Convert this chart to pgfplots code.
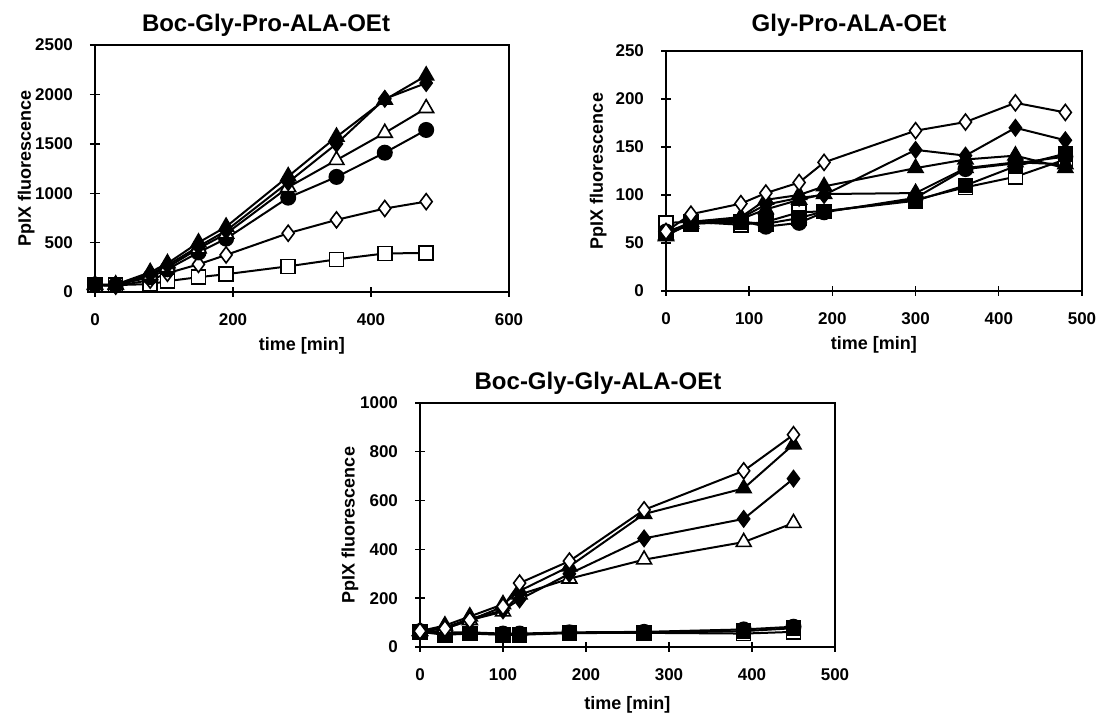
\documentclass[border=0pt]{standalone}
\usepackage{fontspec}
\setmainfont{Liberation Sans}
\usepackage{pgfplots}
\pgfplotsset{compat=1.18}
\pgfplotsset{
  base/.style={
    scale only axis,
    axis line style={line width=0.7pt},
    tick style={line width=0.7pt, black},
    tick align=center,
    major tick length=5pt,
    tick pos=left,
    ticklabel style={font=\bfseries\fontsize{8.5}{10}\selectfont},
    label style={font=\bfseries\fontsize{9}{10}\selectfont},
    /pgf/number format/assume math mode=true,
    /pgf/number format/set thousands separator={},
    scaled ticks=false,
    xticklabel style={yshift=-5pt},
    yticklabel style={xshift=-5pt},
    xlabel={time [min]},
    ylabel={PpIX fluorescence},
    every axis plot/.append style={black, line width=1pt},
  },
  ftri/.style={mark=triangle*, mark size=4.3pt, mark options={fill=black, draw=black, line width=0.8pt, solid}},
  otri/.style={mark=triangle*, mark size=4.3pt, mark options={fill=white, draw=black, line width=0.8pt, solid}},
  fdia/.style={mark=diamond*, mark size=4pt, mark options={fill=black, draw=black, line width=0.8pt, solid}},
  odia/.style={mark=diamond*, mark size=4pt, mark options={fill=white, draw=black, line width=0.8pt, solid}},
  fcirc/.style={mark=*, mark size=3.6pt, mark options={fill=black, draw=black, line width=0.8pt, solid}},
  fsq/.style={mark=square*, mark size=3.5pt, mark options={fill=black, draw=black, line width=0.8pt, solid}},
  osq/.style={mark=square*, mark size=3.5pt, mark options={fill=white, draw=black, line width=0.8pt, solid}},
}
\begin{document}
\begin{tikzpicture}
\useasboundingbox (0,0) rectangle (550pt,356.5pt);
% ---------------- Plot 1 ----------------
\begin{axis}[base, at={(47.5pt,210.5pt)}, anchor=south west,
  width=207pt, height=123.5pt,
  xmin=0, xmax=600, ymin=0, ymax=2500,
  xtick={0,200,400,600}, ytick={0,500,1000,1500,2000,2500},
  xlabel style={at={(axis description cs:0.5,0)}, anchor=center, yshift=-27pt},
  ylabel style={at={(axis description cs:-0.166,0.5)}, anchor=center},
]
\addplot[osq] coordinates {(0,70)(30,70)(80,80)(105,110)(150,150)(190,180)(280,260)(350,330)(420,390)(480,395)};
\addplot[odia] coordinates {(0,70)(30,60)(80,120)(105,190)(150,280)(190,375)(280,595)(350,730)(420,845)(480,915)};
\addplot[fcirc] coordinates {(0,75)(30,70)(80,150)(105,230)(150,400)(190,540)(280,955)(350,1165)(420,1410)(480,1640)};
\addplot[otri] coordinates {(0,70)(30,70)(80,170)(105,250)(150,440)(190,590)(280,1060)(350,1335)(420,1610)(480,1860)};
\addplot[fdia] coordinates {(0,70)(30,70)(80,180)(105,270)(150,460)(190,620)(280,1110)(350,1500)(420,1955)(480,2115)};
\addplot[ftri] coordinates {(0,75)(30,75)(80,200)(105,290)(150,500)(190,660)(280,1170)(350,1570)(420,1945)(480,2190)};
\end{axis}
% ---------------- Plot 2 ----------------
\begin{axis}[base, at={(333pt,211pt)}, anchor=south west,
  width=208pt, height=120pt,
  xmin=0, xmax=500, ymin=0, ymax=250,
  xtick={0,100,200,300,400,500}, ytick={0,50,100,150,200,250},
  xlabel style={at={(axis description cs:0.5,0)}, anchor=center, yshift=-27pt},
  ylabel style={at={(axis description cs:-0.163,0.5)}, anchor=center},
]
\addplot[osq] coordinates {(0,71)(30,72)(90,69)(120,72)(160,82)(190,83)(300,95)(360,108)(420,119)(480,137)};
\addplot[fsq] coordinates {(0,60)(30,70)(90,72)(120,70)(160,76)(190,83)(300,94)(360,110)(420,130)(480,143)};
\addplot[fcirc] coordinates {(0,62)(30,70)(90,73)(120,67)(160,71)(190,82)(300,97)(360,127)(420,133)(480,140)};
\addplot[ftri] coordinates {(0,58)(30,70)(90,75)(120,85)(160,95)(190,101)(300,102)(360,128)(420,134)(480,132)};
\addplot[ftri] coordinates {(0,57)(30,72)(90,77)(120,95)(160,100)(190,109)(300,128)(360,137)(420,141)(480,128)};
\addplot[fdia] coordinates {(0,60)(30,72)(90,76)(120,90)(160,97)(190,100)(300,147)(360,141)(420,170)(480,157)};
\addplot[odia] coordinates {(0,62)(30,80)(90,91)(120,102)(160,113)(190,134)(300,167)(360,176)(420,196)(480,186)};
\end{axis}
% ---------------- Plot 3 ----------------
\begin{axis}[base, at={(210pt,33pt)}, anchor=south west,
  width=207.5pt, height=122pt,
  xmin=0, xmax=500, ymin=0, ymax=1000,
  xtick={0,100,200,300,400,500}, ytick={0,200,400,600,800,1000},
  xlabel style={at={(axis description cs:0.5,0)}, anchor=center, yshift=-29pt},
  ylabel style={at={(axis description cs:-0.169,0.5)}, anchor=center},
]
\addplot[osq] coordinates {(0,62)(30,55)(60,55)(100,52)(120,52)(180,58)(270,58)(390,55)(450,62)};
\addplot[fsq] coordinates {(0,62)(30,50)(60,55)(100,50)(120,50)(180,57)(270,58)(390,65)(450,77)};
\addplot[fcirc] coordinates {(0,65)(30,60)(60,60)(100,55)(120,55)(180,60)(270,62)(390,72)(450,83)};
\addplot[otri] coordinates {(0,65)(30,75)(60,110)(100,145)(120,215)(180,280)(270,358)(390,430)(450,508)};
\addplot[fdia] coordinates {(0,65)(30,80)(60,115)(100,150)(120,195)(180,300)(270,445)(390,525)(450,690)};
\addplot[ftri] coordinates {(0,65)(30,88)(60,125)(100,175)(120,230)(180,330)(270,545)(390,650)(450,830)};
\addplot[odia] coordinates {(0,65)(30,75)(60,110)(100,165)(120,262)(180,352)(270,562)(390,722)(450,870)};
\end{axis}
% ---------------- Titles ----------------
\node[font=\bfseries\fontsize{12}{14}\selectfont] at (133pt,344pt) {Boc-Gly-Pro-ALA-OEt};
\node[font=\bfseries\fontsize{12}{14}\selectfont] at (424.5pt,344pt) {Gly-Pro-ALA-OEt};
\node[font=\bfseries\fontsize{12}{14}\selectfont] at (299pt,165pt) {Boc-Gly-Gly-ALA-OEt};
\end{tikzpicture}
\end{document}
